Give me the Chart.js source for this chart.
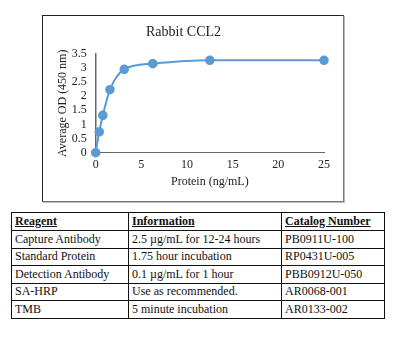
<!DOCTYPE html>
<html>
<head>
<meta charset="utf-8">
<script src="https://cdn.jsdelivr.net/npm/chart.js@4.4.1/dist/chart.umd.min.js"></script>
<style>
  html, body { margin:0; padding:0; background:#fff; }
  body { width:398px; height:356px; position:relative; overflow:hidden; font-family:"Liberation Serif","DejaVu Serif",serif; }
  #box { position:absolute; left:42px; top:15px; width:300px; height:185px;
         border-top:1px solid #222; border-left:1px solid #222; border-right:1px solid #777; border-bottom:1px solid #777;
         box-shadow:1px 1px 0 #bbb; }
  #wrap { position:absolute; left:0; top:0; width:300px; height:185px; }
  table { position:absolute; left:11px; top:212px; border-collapse:collapse; font-size:12px; color:#111; }
  td { border:1px solid #111; padding:0 3px; height:16.5px; line-height:15px; white-space:nowrap; vertical-align:middle; }
  tr.h td { font-weight:bold; text-decoration:underline; height:17px; }
</style>
</head>
<body>
<div id="box"><div id="wrap"><canvas id="c"></canvas></div></div>
<table id="t"></table>
<script>
const chartTitle = "Rabbit CCL2";
const xTitle = "Protein (ng/mL)";
const yTitle = "Average OD (450 nm)";
const concentrations = [0, 0.39, 0.78, 1.56, 3.125, 6.25, 12.5, 25];
const odValues = [0.0, 0.74, 1.32, 2.23, 2.95, 3.15, 3.27, 3.27];
const yTickLabels = ["0", "0.5", "1", "1.5", "2", "2.5", "3", "3.5"];
const xTickLabels = ["0", "5", "10", "15", "20", "25"];

const tableHeaders = ["Reagent", "Information", "Catalog Number"];
const reagents = ["Capture Antibody", "Standard Protein", "Detection Antibody", "SA-HRP", "TMB"];
const information = ["2.5 µg/mL for 12-24 hours", "1.75 hour incubation", "0.1 µg/mL for 1 hour", "Use as recommended.", "5 minute incubation"];
const catalogNumbers = ["PB0911U-100", "RP0431U-005", "PBB0912U-050", "AR0068-001", "AR0133-002"];
const colWidths = [117, 153, 103];

// table
const t = document.getElementById('t');
const hr = document.createElement('tr'); hr.className = 'h';
tableHeaders.forEach((h, i) => { const td = document.createElement('td'); td.textContent = h; td.style.width = (colWidths[i]-7) + 'px'; hr.appendChild(td); });
t.appendChild(hr);
reagents.forEach((r, i) => {
  const tr = document.createElement('tr');
  [r, information[i], catalogNumbers[i]].forEach(v => { const td = document.createElement('td'); td.textContent = v; tr.appendChild(td); });
  t.appendChild(tr);
});

const font = "'Liberation Serif', 'Times New Roman', serif";
new Chart(document.getElementById('c'), {
  type: 'scatter',
  data: {
    datasets: [{
      data: concentrations.map((x, i) => ({ x, y: odValues[i] })),
      showLine: true,
      borderColor: '#5B9BD5',
      backgroundColor: '#5B9BD5',
      borderWidth: 2,
      pointRadius: 3.8,
      pointHoverRadius: 3.8,
      cubicInterpolationMode: 'monotone',
      clip: false
    }]
  },
  options: {
    responsive: true,
    maintainAspectRatio: false,
    animation: false,
    devicePixelRatio: 1,
    layout: { padding: { left: 0, right: 19, top: 0, bottom: 0 } },
    plugins: {
      legend: { display: false },
      tooltip: { enabled: false },
      title: { display: true, text: chartTitle, color: '#222', font: { family: font, size: 14, weight: 'normal' }, padding: { top: 8, bottom: 13 } }
    },
    scales: {
      x: {
        type: 'linear', min: 0, max: 25,
        ticks: { stepSize: 5, autoSkip: false, color: '#222', font: { family: font, size: 12 }, padding: 5, maxRotation: 0,
                 callback: (v, i) => xTickLabels[i] },
        grid: { display: false, drawTicks: false },
        border: { color: '#666', width: 1 },
        title: { display: true, text: xTitle, color: '#222', font: { family: font, size: 12 }, padding: { top: 0, bottom: 12 } },
        afterFit: s => { s.height = 48.3; }
      },
      y: {
        min: 0, max: 3.5,
        ticks: { stepSize: 0.5, autoSkip: false, color: '#222', font: { family: font, size: 12 }, padding: 9,
                 callback: (v, i) => yTickLabels[i] },
        grid: { display: false, drawTicks: false },
        border: { color: '#666', width: 1.5 },
        title: { display: true, text: yTitle, color: '#222', font: { family: font, size: 12 }, padding: { top: 13, bottom: 0 } },
        afterFit: s => { s.width = 52.7; }
      }
    }
  }
});
</script>
</body>
</html>
